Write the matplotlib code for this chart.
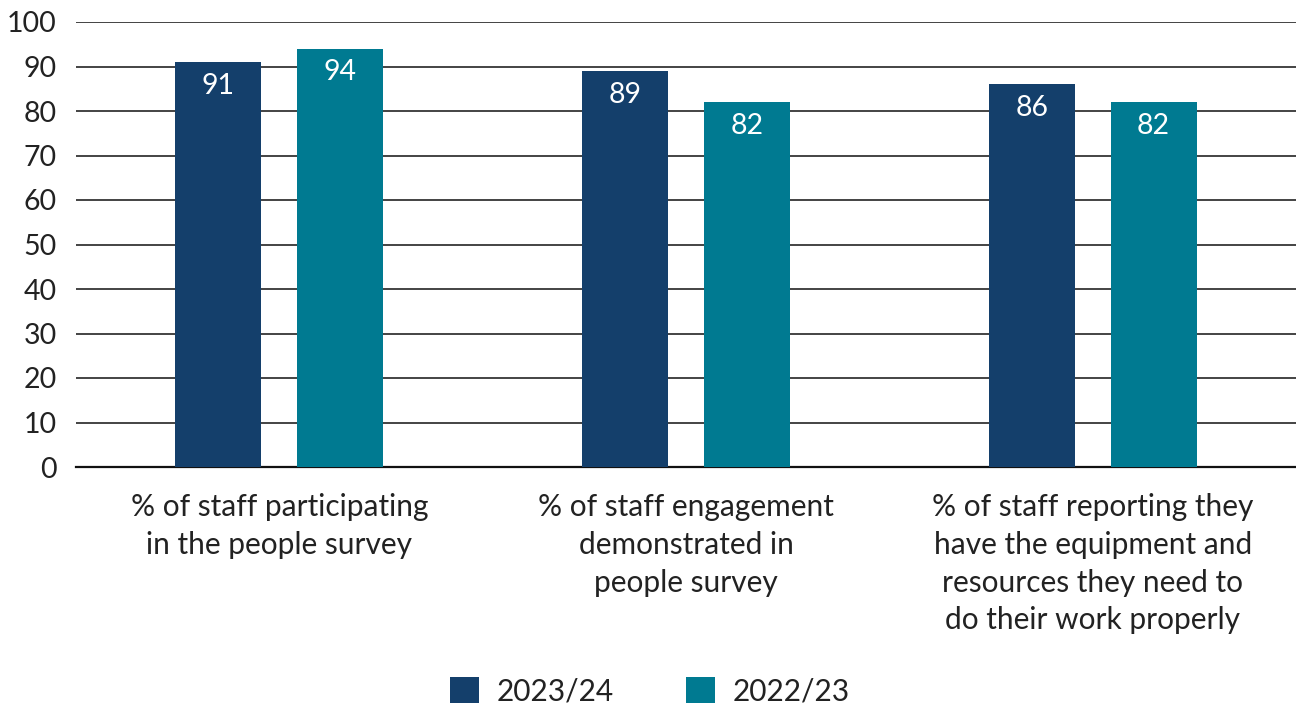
import matplotlib
matplotlib.use("Agg")
import matplotlib.pyplot as plt
import numpy as np

plt.rcParams['font.family'] = ['Lato', 'DejaVu Sans']

categories = [
    "% of staff participating\nin the people survey",
    "% of staff engagement\ndemonstrated in\npeople survey",
    "% of staff reporting they\nhave the equipment and\nresources they need to\ndo their work properly",
]
series_names = ["2023/24", "2022/23"]
values_2023 = [91, 89, 86]
values_2022 = [94, 82, 82]

dark_blue = "#143f6b"
teal = "#007a91"
text_color = "#222222"

fig = plt.figure(figsize=(12.96, 7.06), dpi=100)
ax = fig.add_axes([76 / 1296, 1 - 467 / 706, 1 - 76 / 1296, (467 - 22) / 706])

x = np.arange(len(categories))
width = 0.211
offset = 0.15

bars_a = ax.bar(x - offset, values_2023, width, color=dark_blue, label=series_names[0], zorder=3)
bars_b = ax.bar(x + offset, values_2022, width, color=teal, label=series_names[1], zorder=3)

for rects in (bars_a, bars_b):
    for rect in rects:
        h = rect.get_height()
        ax.annotate(f"{h:.0f}", xy=(rect.get_x() + rect.get_width() / 2, h),
                    xytext=(0, -17), textcoords='offset points',
                    ha='center', va='center', color='white', fontsize=20.5, zorder=4)

ax.set_xlim(-0.5, 2.5)
ax.set_ylim(0, 100)
ax.set_yticks(range(0, 101, 10))
ax.yaxis.grid(True, color='#111111', linewidth=1.1, zorder=0)
ax.set_axisbelow(True)
for side in ('top', 'right', 'left'):
    ax.spines[side].set_visible(False)
ax.spines['bottom'].set_color('#111111')
ax.spines['bottom'].set_linewidth(1.6)

ax.set_xticks(x)
ax.set_xticklabels(categories, fontsize=21.5, color=text_color, linespacing=1.42, va='top')
ax.tick_params(axis='x', length=0, pad=19)
ax.tick_params(axis='y', length=0, pad=14, labelsize=20.5, labelcolor=text_color)

fig.legend(handles=[bars_a, bars_b], labels=series_names, loc='center',
           bbox_to_anchor=(650 / 1296, 1 - 691 / 706), ncol=2, frameon=False,
           fontsize=21.5, handlelength=0.97, handleheight=0.97, handletextpad=0.6,
           columnspacing=2.4, labelcolor=text_color)

fig.savefig("out.png", dpi=100)
